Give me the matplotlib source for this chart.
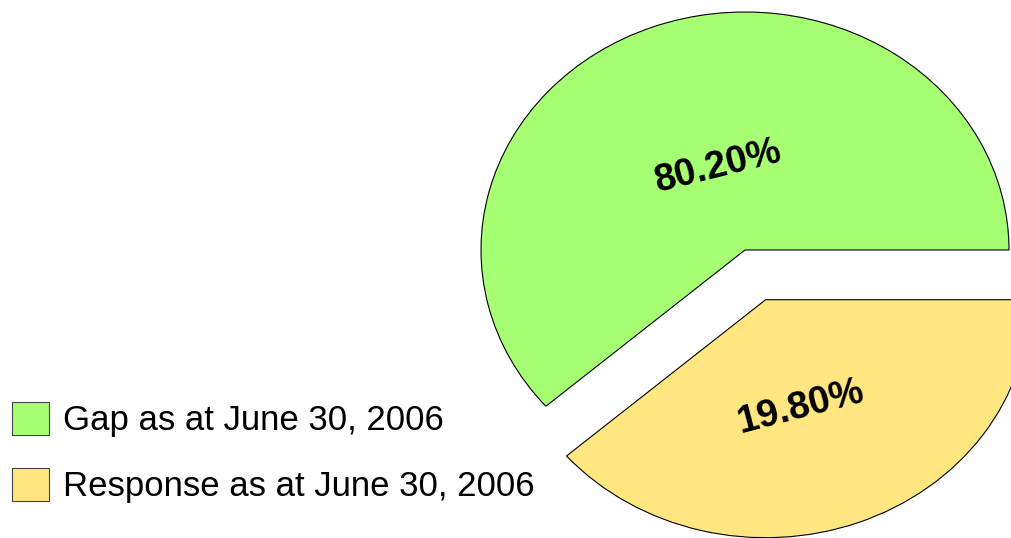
import matplotlib
matplotlib.use("Agg")
import matplotlib.pyplot as plt

# Data
categories = ["Gap as at June 30, 2006", "Response as at June 30, 2006"]
slice_shares = [61.4, 38.6]          # shares as drawn in the picture
value_labels = ["80.20%", "19.80%"]  # labels printed on the slices
colors = ["#A6FF73", "#FFE680"]

plt.rcParams['font.family'] = ['Liberation Sans', 'DejaVu Sans']

W, H = 1012, 538
fig = plt.figure(figsize=(W / 100, H / 100), dpi=100)
ax = fig.add_axes([0, 0, 1, 1])
ax.set_axis_off()

wedges, _ = ax.pie(slice_shares, colors=colors, startangle=0, counterclock=True,
                   explode=[0, 0.223], radius=1.0, center=(0, 0),
                   wedgeprops=dict(edgecolor="black", linewidth=0.8))

# pixel scaling: center at (745, 250 from top); rx=264 px, ry=238 px
cx, cy, rx, ry = 745, 250, 264, 238
ax.set_xlim(-cx / rx, (W - cx) / rx)
ax.set_ylim(-(H - cy) / ry, cy / ry)
ax.set_aspect('auto')

def px(x, y):
    return ((x - cx) / rx, (cy - y) / ry)

ax.text(*px(718, 167), value_labels[0], fontsize=27.5, fontweight='bold',
        rotation=14, ha='center', va='center', rotation_mode='anchor')
ax.text(*px(801, 407), value_labels[1], fontsize=27.5, fontweight='bold',
        rotation=14.5, ha='center', va='center', rotation_mode='anchor')

fs = 25
em = fs * 100 / 72.0
leg = fig.legend(handles=wedges, labels=categories, loc='upper left',
                 bbox_to_anchor=(12 / W, 1 - 402 / H), frameon=False,
                 fontsize=fs, handlelength=37 / em, handleheight=37 / em,
                 handletextpad=14 / em, labelspacing=31 / em, borderpad=0,
                 borderaxespad=0)
for h in leg.legend_handles:
    h.set_edgecolor("#444444")

fig.savefig("out.png", dpi=100)
